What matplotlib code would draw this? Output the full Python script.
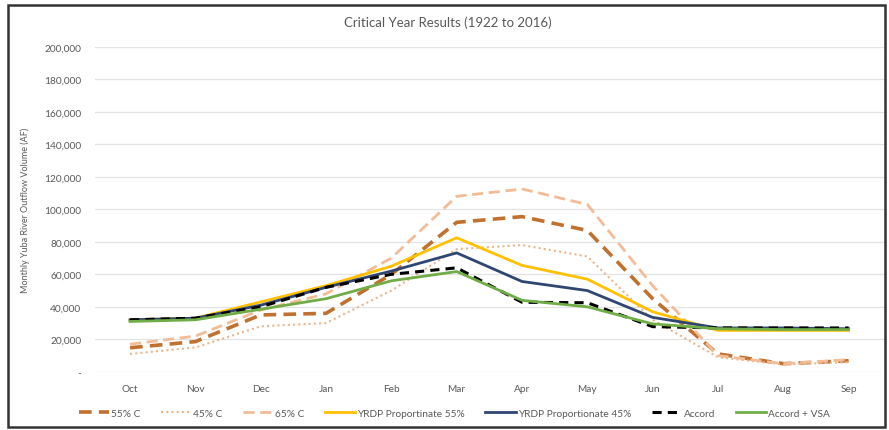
import matplotlib.pyplot as plt
from matplotlib.patches import Rectangle
from matplotlib.ticker import FuncFormatter

months = ['Oct', 'Nov', 'Dec', 'Jan', 'Feb', 'Mar', 'Apr', 'May', 'Jun', 'Jul', 'Aug', 'Sep']

c55 = [14800, 18600, 35000, 36000, 60000, 92000, 95500, 87000, 45000, 11000, 5000, 6800]
c45 = [11000, 15000, 28000, 30000, 50000, 75500, 78000, 71000, 32000, 9000, 4500, 6000]
c65 = [17000, 22000, 38000, 48000, 70000, 108000, 112500, 103000, 53000, 10000, 5000, 7500]
yrdp55 = [32000, 33000, 43000, 53000, 65000, 82500, 65500, 57000, 37000, 25500, 25500, 25500]
yrdp45 = [32000, 33000, 41000, 52000, 62000, 73200, 55600, 50000, 33500, 27000, 27000, 26500]
accord = [32000, 33000, 40000, 52000, 60000, 64000, 42800, 42500, 27800, 27000, 27000, 27000]
accord_vsa = [31000, 32000, 38500, 45000, 56000, 61700, 44000, 40000, 29500, 26500, 26000, 26000]

plt.rcParams['font.family'] = ['Lato', 'DejaVu Sans']
txt = '#595959'

fig = plt.figure(figsize=(8.89, 4.31), dpi=100)
ax = fig.add_axes([0.107, 0.135, 0.888, 0.754])

x = range(len(months))
ax.plot(x, c55, color='#C0702F', lw=2.6, ls=(0, (3.5, 2)), label='55% C')
ax.plot(x, c45, color='#EBB58A', lw=1.5, ls=(0, (1, 1.5)), label='45% C')
ax.plot(x, c65, color='#F2BC97', lw=2.0, ls=(0, (4, 2)), label='65% C')
ax.plot(x, yrdp55, color='#FFC000', lw=2.0, label='YRDP Proportinate 55%')
ax.plot(x, yrdp45, color='#2F4673', lw=2.0, label='YRDP Proportionate 45%')
ax.plot(x, accord, color='black', lw=2.2, ls=(0, (3, 2)), label='Accord')
ax.plot(x, accord_vsa, color='#70AD47', lw=2.0, label='Accord + VSA')

ax.set_xlim(-0.535, 11.55)
ax.set_ylim(0, 200000)
ax.set_yticks(range(0, 200001, 20000))
ax.yaxis.set_major_formatter(FuncFormatter(lambda v, p: '-' if v == 0 else f'{int(v):,}'))
ax.set_xticks(list(x))
ax.set_xticklabels(months)
ax.tick_params(length=0, colors=txt, labelsize=7.3)
ax.tick_params(axis='x', pad=9)
ax.tick_params(axis='y', pad=10)
ax.grid(axis='y', color='#E3E3E3', lw=0.9)
ax.set_axisbelow(True)
for s in ax.spines.values():
    s.set_visible(False)

ax.set_ylabel('Monthly Yuba River Outflow Volume (AF)', color=txt, fontsize=6.5)
ax.yaxis.set_label_coords(-0.082, 0.5)
fig.text(0.504, 0.948, 'Critical Year Results (1922 to 2016)', ha='center', va='center',
         color=txt, fontsize=9.5)

leg = ax.legend(loc='upper center', bbox_to_anchor=(0.455, -0.085), ncol=7, frameon=False,
                fontsize=7.3, handlelength=3.0, handletextpad=0.2, columnspacing=2.0)
for t in leg.get_texts():
    t.set_color(txt)

fig.patches.append(Rectangle((0.009, 0.007), 0.987, 0.98, transform=fig.transFigure,
                             fill=False, edgecolor='#333333', lw=1.8))

fig.savefig('out.png', dpi=100)
